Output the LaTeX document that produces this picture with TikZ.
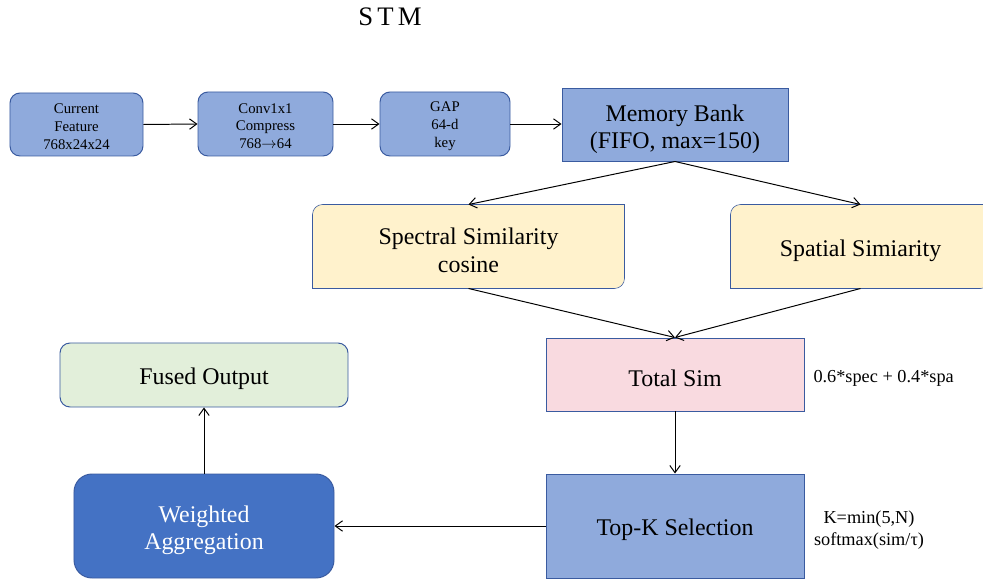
\documentclass[tikz,border=0pt]{standalone}
\usepackage{fontspec}
\setmainfont{Liberation Serif}
\usepackage{xcolor}
\usepackage{tikz}
\usetikzlibrary{arrows.meta,backgrounds}

\definecolor{boxblue}{HTML}{8FAADC}
\definecolor{edgeblue}{HTML}{3A5BA0}
\definecolor{deepblue}{HTML}{4472C4}
\definecolor{cream}{HTML}{FFF2CC}
\definecolor{blush}{HTML}{F9DAE0}
\definecolor{mint}{HTML}{E2EFDA}

% invisible strut on the first line, pushes the text a little down
\newcommand{\sinkto}[1][17.5pt]{\rule{0pt}{#1}}

\tikzset{
  stage/.style={draw=edgeblue, fill=boxblue, rounded corners=2.5mm, inner sep=0pt,
    align=center, font=\fontsize{10.5}{12.5}\selectfont},
  bigbox/.style={draw=edgeblue, inner sep=0pt, align=center,
    font=\fontsize{17}{19.5}\selectfont},
  card/.style={draw=edgeblue, fill=cream},
  note/.style={inner sep=0pt, align=center, font=\fontsize{13}{15.6}\selectfont},
}

\begin{document}
\begin{tikzpicture}[x=0.25mm, y=-0.25mm, line width=0.7pt,
    >={Straight Barb[length=1.8mm,width=2.6mm]}]
\clip (0,0) rectangle (983,581);

    % Title
    \node[font=\fontsize{19}{22}\selectfont] (title) at (390,17) {S\kern3pt T\kern3pt M};

    % Key extraction
    \node[stage, minimum width=33.25mm, minimum height=15.75mm] (cur) at (76.5,124.5)
        {\sinkto[10pt]Current\\Feature\\768x24x24};
    \node[stage, minimum width=33.75mm, minimum height=16mm] (conv) at (265.5,124)
        {\sinkto[10pt]Conv1x1\\Compress\\768$\rightarrow$64};
    \node[stage, minimum width=32.5mm, minimum height=16mm] (gap) at (445,124)
        {\sinkto[10pt]GAP\\64-d\\key};
    \node[bigbox, fill=boxblue, minimum width=56.5mm, minimum height=18.25mm] (mb) at (675,124.5)
        {\sinkto[18.5pt]Memory Bank\\(FIFO, max=150)};

    % Similarities
    \node[bigbox, draw=none, minimum width=77.75mm, minimum height=20.75mm] (spec) at (468.5,246.5)
        {\sinkto Spectral Similarity\\cosine};
    \node[bigbox, draw=none, minimum width=64.75mm, minimum height=20.75mm] (spat) at (860.5,246.5)
        {\sinkto Spatial Simiarity};
    \begin{scope}[on background layer]
    \foreach \n in {spec,spat}
        \filldraw[card] (\n.south west) -- ([yshift=-2.5mm]\n.north west)
            arc[start angle=180, end angle=90, radius=2.5mm] -- (\n.north east)
            -- ([yshift=2.5mm]\n.south east)
            arc[start angle=0, end angle=-90, radius=2.5mm] -- cycle;
    \end{scope}

    % Selection and fusion
    \node[bigbox, fill=blush, minimum width=64.5mm, minimum height=18.25mm] (tot) at (675,374.5)
        {\sinkto Total Sim};
    \node[bigbox, fill=boxblue, minimum width=64.5mm, minimum height=26mm] (topk) at (675,526)
        {\sinkto Top-K Selection};
    \node[bigbox, fill=mint, rounded corners=2.5mm, minimum width=72mm, minimum height=16mm] (fused) at (204,375)
        {\sinkto Fused Output};
    \node[bigbox, fill=deepblue, text=white, rounded corners=4.5mm, minimum width=65mm, minimum height=26mm] (wagg) at (204,526)
        {\sinkto Weighted\\Aggregation};

    % Notes
    \node[note, anchor=west] (mix) at (813,378) {0.6*spec + 0.4*spa};
    \node[note] (kpick) at (869,527) {\sinkto[13.3pt]K=min(5,N)\\softmax(sim/τ)};

    % Arrows
    \draw[->] (cur.east) -- (conv.west);
    \draw[->] (conv.east) -- (gap.west);
    \draw[->] (gap.east) -- (gap.east -| mb.west);
    \draw[->] (mb.south) -- (spec.north);
    \draw[->] (mb.south) -- (spat.north);
    \draw[->] (spec.south) -- (tot.north);
    \draw[->] (spat.south) -- (tot.north);
    \draw[->] (tot) -- (topk);
    \draw[->] (topk) -- (wagg);
    \draw[->] (wagg) -- (fused);
\end{tikzpicture}
\end{document}
